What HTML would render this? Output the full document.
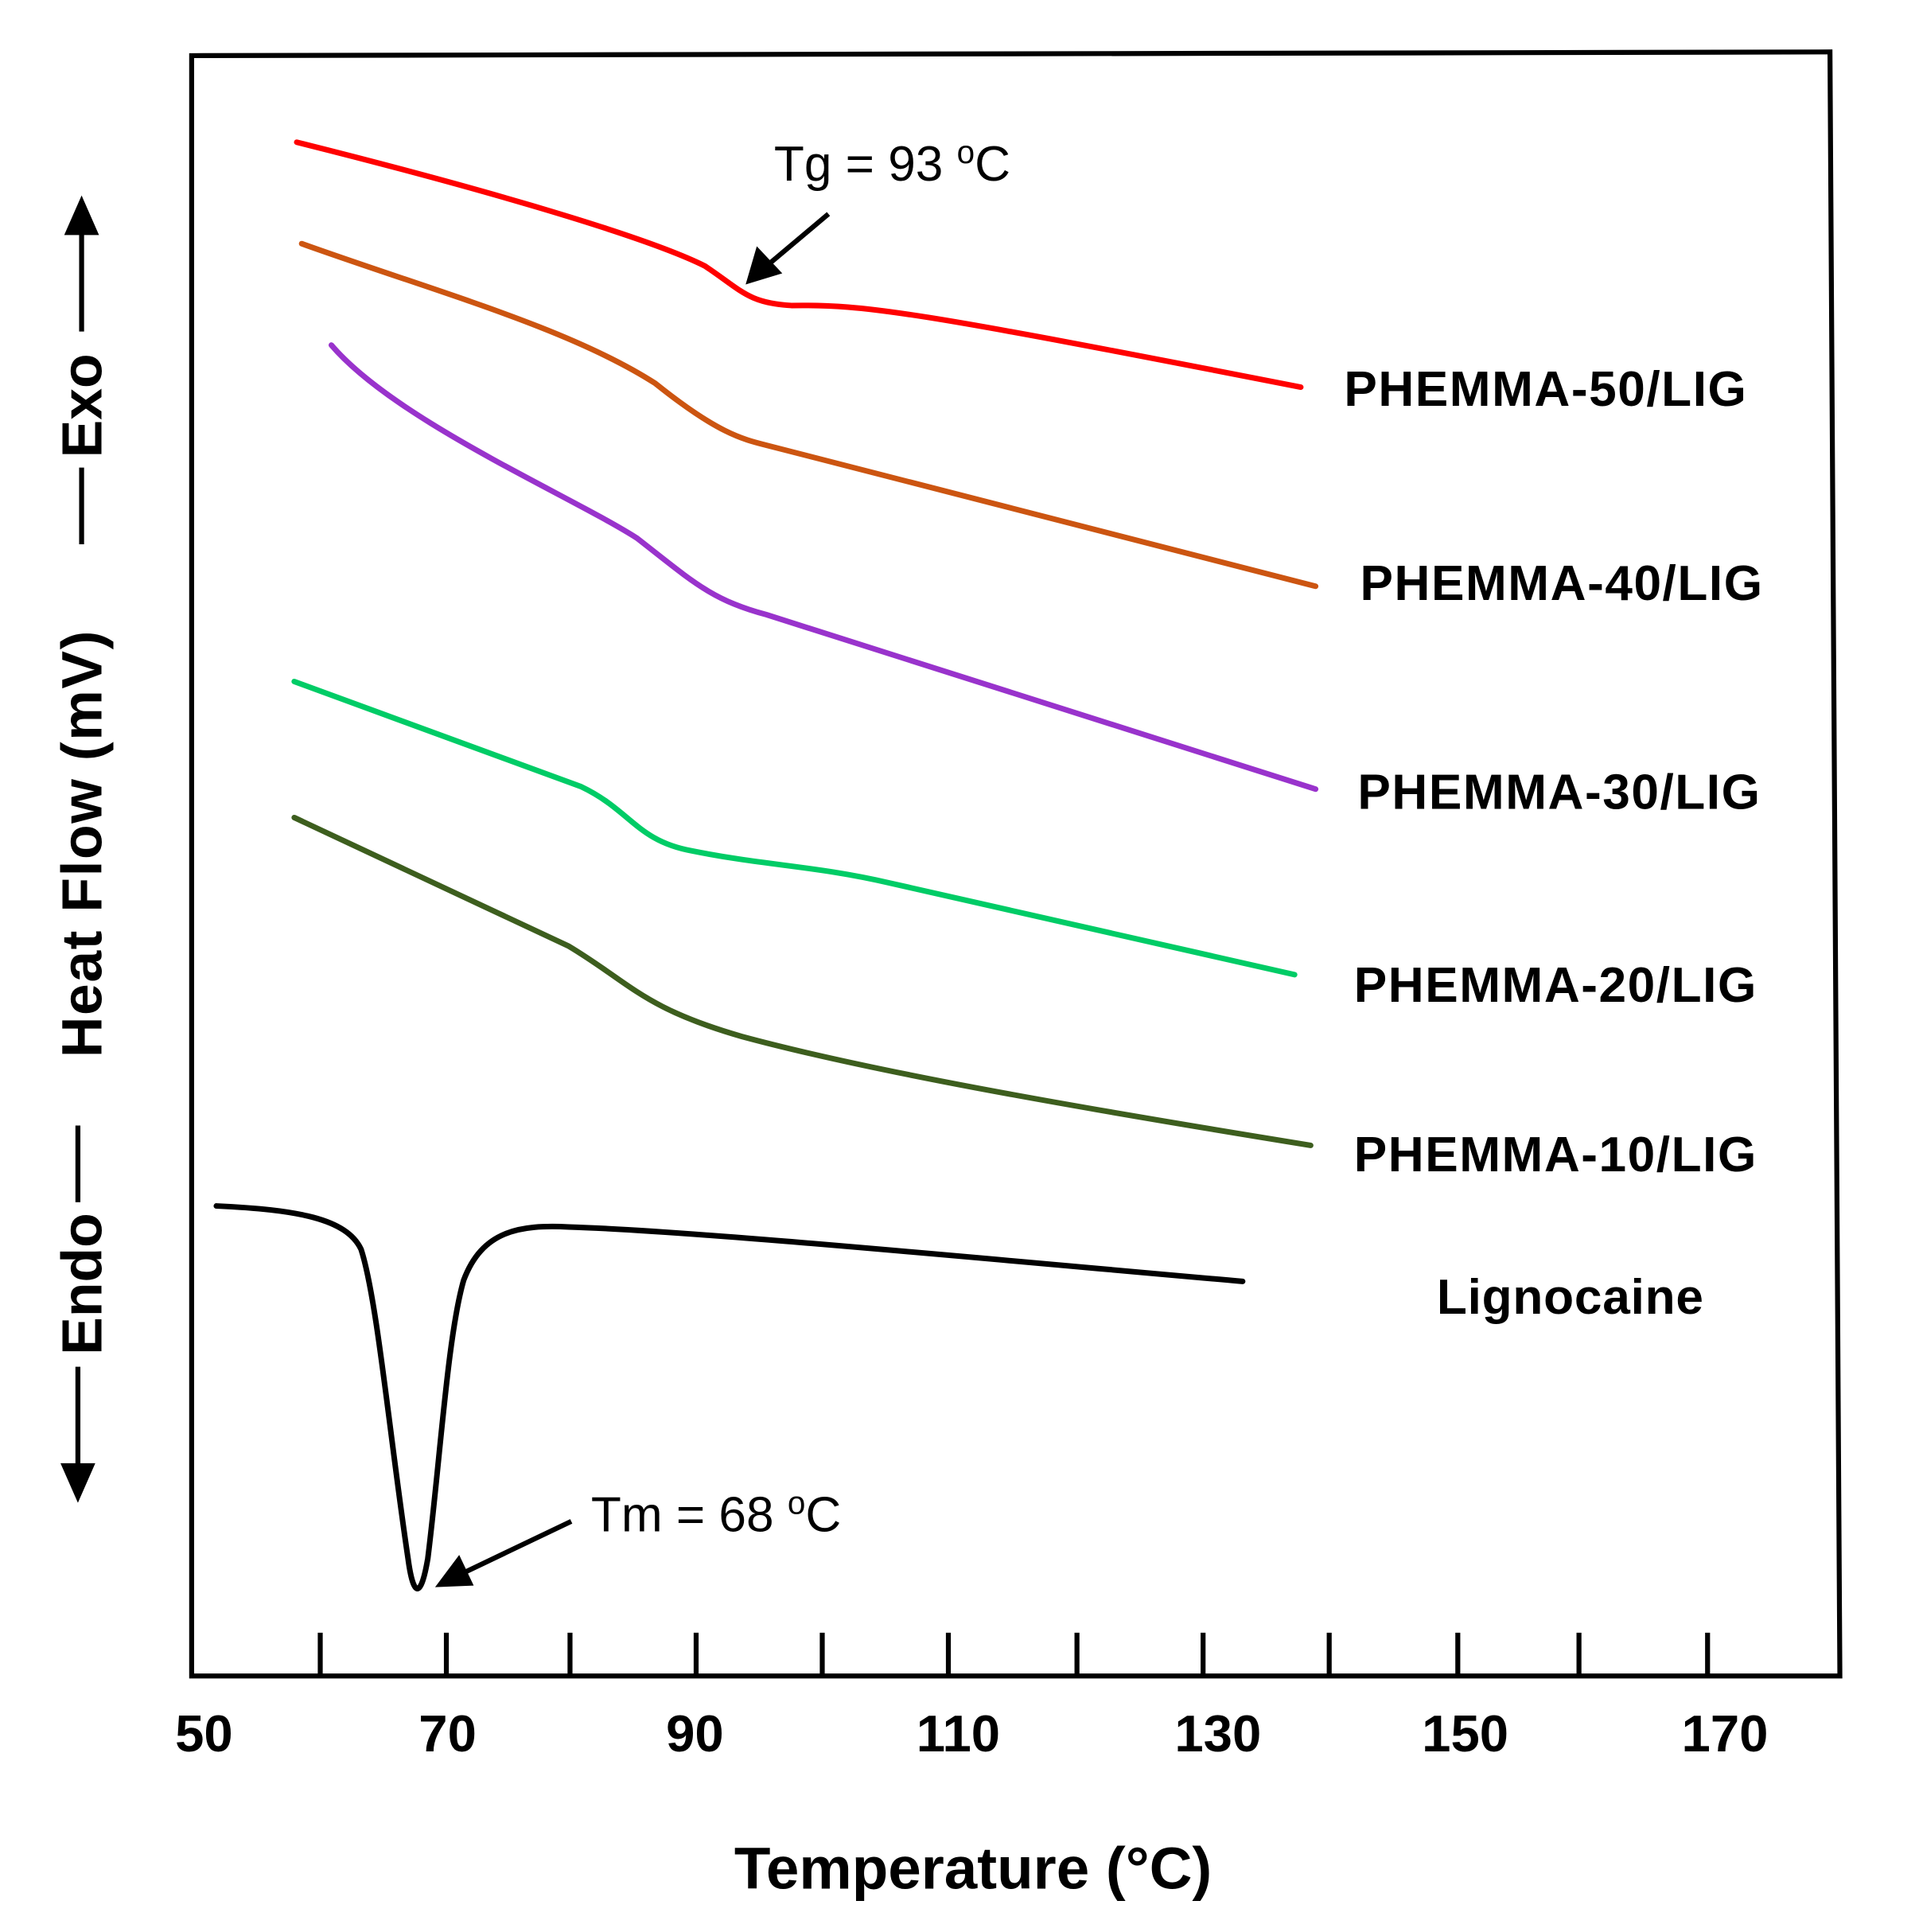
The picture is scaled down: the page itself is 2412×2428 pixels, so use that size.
<!DOCTYPE html>
<html><head><meta charset="utf-8"><style>html,body{margin:0;padding:0;background:#fff}svg{display:block}</style></head>
<body>
<svg width="2412" height="2428" viewBox="0 0 1552 1562" preserveAspectRatio="none" xmlns="http://www.w3.org/2000/svg" font-family="Liberation Sans, sans-serif">
<polygon points="155,45 1480,42 1488,1355 155,1355" fill="none" stroke="#000" stroke-width="4"/>
<g stroke="#000" stroke-width="4">
<line x1="259" y1="1320" x2="259" y2="1355"/><line x1="361" y1="1320" x2="361" y2="1355"/><line x1="461" y1="1320" x2="461" y2="1355"/><line x1="563" y1="1320" x2="563" y2="1355"/><line x1="665" y1="1320" x2="665" y2="1355"/><line x1="767" y1="1320" x2="767" y2="1355"/><line x1="871" y1="1320" x2="871" y2="1355"/><line x1="973" y1="1320" x2="973" y2="1355"/><line x1="1075" y1="1320" x2="1075" y2="1355"/><line x1="1179" y1="1320" x2="1179" y2="1355"/><line x1="1277" y1="1320" x2="1277" y2="1355"/><line x1="1381" y1="1320" x2="1381" y2="1355"/>
</g>
<g font-size="42" font-weight="bold" text-anchor="middle">
<text x="165" y="1416">50</text><text x="362" y="1416">70</text><text x="562" y="1416">90</text><text x="775" y="1416">110</text><text x="985" y="1416">130</text><text x="1185" y="1416">150</text><text x="1395" y="1416">170</text>
</g>
<text x="787" y="1527" font-size="48" font-weight="bold" text-anchor="middle">Temperature (°C)</text>
<g fill="none" stroke-width="4.5" stroke-linecap="round">
<path d="M240,115 C380,150 520,190 570,215 C600,235 605,245 640,247 C700,246 740,252 1052,313" stroke="#ff0000"/>
<path d="M244,197 C350,235 460,265 530,310 C580,350 600,355 620,360 L1064,474" stroke="#cc5511"/>
<path d="M268,279 C320,340 460,400 515,435 C560,470 575,485 620,497 L1064,638" stroke="#9933cc"/>
<path d="M238,551 L470,636 C510,655 515,680 560,688 C620,700 660,700 720,714 L1047,788" stroke="#00cc66"/>
<path d="M238,661 L460,765 C510,795 520,815 600,838 C700,865 850,892 1060,926" stroke="#3d5e1e"/>
<path d="M175,975 C240,978 280,985 292,1010 C305,1050 315,1160 330,1260 C334,1290 340,1295 346,1260 C356,1180 362,1080 375,1035 C390,995 420,990 460,992 C560,995 800,1018 1005,1036" stroke="#000"/>
</g>
<g font-size="40" font-weight="bold" letter-spacing="1">
<text x="1087" y="328">PHEMMA-50/LIG</text>
<text x="1100" y="485">PHEMMA-40/LIG</text>
<text x="1098" y="654">PHEMMA-30/LIG</text>
<text x="1095" y="810">PHEMMA-20/LIG</text>
<text x="1095" y="947">PHEMMA-10/LIG</text>
<text x="1162" y="1062" letter-spacing="0.5">Lignocaine</text>
</g>
<g font-size="40">
<text x="626" y="146">Tg = 93 <tspan font-size="26" dy="-14">o</tspan><tspan dy="14">C</tspan></text>
<text x="478" y="1238">Tm = 68 <tspan font-size="26" dy="-14">o</tspan><tspan dy="14">C</tspan></text>
</g>
<g stroke="#000" stroke-width="4" fill="#000">
<line x1="670" y1="173" x2="620" y2="215"/><polygon points="606,227 613,203 629,220"/>
<line x1="462" y1="1230" x2="372" y2="1273"/><polygon points="356,1281 371,1261 380,1280"/>
<line x1="66" y1="440" x2="66" y2="378"/>
<line x1="66" y1="268" x2="66" y2="185"/><polygon points="66,163 55,188 77,188"/>
<line x1="63" y1="910" x2="63" y2="972"/>
<line x1="63" y1="1105" x2="63" y2="1188"/><polygon points="63,1210 52,1185 74,1185"/>
</g>
<g font-size="46" font-weight="bold" text-anchor="middle">
<text transform="translate(82,328) rotate(-90)">Exo</text>
<text transform="translate(82,682) rotate(-90)" letter-spacing="1">Heat Flow (mV)</text>
<text transform="translate(82,1038) rotate(-90)">Endo</text>
</g>
</svg>
</body></html>
